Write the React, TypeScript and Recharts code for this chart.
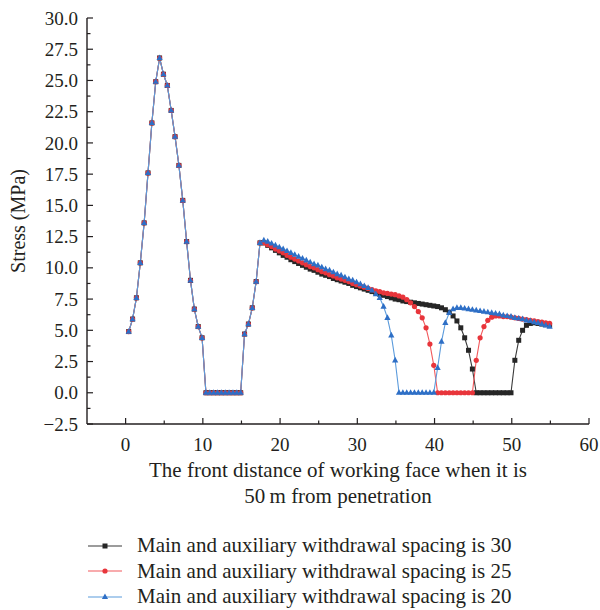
import { LineChart, Line, XAxis, YAxis, Legend, Label } from 'recharts';

const FONT = '"Liberation Serif", "Times New Roman", serif';
const INK = '#231f20';

// distance ahead of the working face (m), one sample every 0.5 m
const approachDistance = [
  0.4, 0.9, 1.4, 1.9, 2.4, 2.9, 3.4, 3.9, 4.4, 4.9,
  5.4, 5.9, 6.4, 6.9, 7.4, 7.9, 8.4, 8.9, 9.4, 9.9,
  10.4, 10.9, 11.4, 11.9, 12.4, 12.9, 13.4, 13.9, 14.4, 14.9,
  15.4, 15.9, 16.4, 16.9, 17.4,
];
const tailDistance = [
  17.9, 18.4, 18.9, 19.4, 19.9, 20.4, 20.9, 21.4, 21.9, 22.4,
  22.9, 23.4, 23.9, 24.4, 24.9, 25.4, 25.9, 26.4, 26.9, 27.4,
  27.9, 28.4, 28.9, 29.4, 29.9, 30.4, 30.9, 31.4, 31.9, 32.4,
  32.9, 33.4, 33.9, 34.4, 34.9, 35.4, 35.9, 36.4, 36.9, 37.4,
  37.9, 38.4, 38.9, 39.4, 39.9, 40.4, 40.9, 41.4, 41.9, 42.4,
  42.9, 43.4, 43.9, 44.4, 44.9, 45.4, 45.9, 46.4, 46.9, 47.4,
  47.9, 48.4, 48.9, 49.4, 49.9, 50.4, 50.9, 51.4, 51.9, 52.4,
  52.9, 53.4, 53.9, 54.4, 54.9,
];

// stress (MPa) near the face, identical for all three spacings
const approachStress = [
  4.9, 5.9, 7.6, 10.4, 13.6, 17.6, 21.6, 24.9, 26.8, 25.5,
  24.6, 22.6, 20.5, 18.2, 15.4, 12.1, 9.0, 6.7, 5.3, 4.4,
  0, 0, 0, 0, 0, 0, 0, 0, 0, 0,
  4.7, 5.5, 6.8, 8.9, 12.0,
];

// spacing 30
const stress30 = [
  12.0, 11.8, 11.6, 11.4, 11.2, 11.0, 10.85, 10.65, 10.5, 10.35,
  10.2, 10.05, 9.9, 9.8, 9.65, 9.5, 9.4, 9.3, 9.15, 9.05,
  8.95, 8.85, 8.75, 8.6, 8.5, 8.4, 8.3, 8.2, 8.1, 8.0,
  7.9, 7.8, 7.7, 7.6, 7.5, 7.45, 7.35, 7.3, 7.25, 7.2,
  7.15, 7.1, 7.05, 7.0, 6.95, 6.9, 6.8, 6.65, 6.45, 6.15,
  5.75, 5.2, 4.4, 3.4, 1.9, 0, 0, 0, 0, 0,
  0, 0, 0, 0, 0, 2.6, 4.2, 5.0, 5.4, 5.55,
  5.6, 5.55, 5.5, 5.45, 5.4,
];

// spacing 25
const stress25 = [
  12.0, 11.85, 11.7, 11.5, 11.35, 11.2, 11.0, 10.85, 10.7, 10.55,
  10.4, 10.25, 10.1, 10.0, 9.85, 9.7, 9.6, 9.45, 9.35, 9.2,
  9.1, 9.0, 8.9, 8.75, 8.65, 8.55, 8.45, 8.35, 8.25, 8.15,
  8.1, 8.0, 7.95, 7.9, 7.85, 7.75, 7.65, 7.45, 7.2, 6.9,
  6.5, 6.0, 5.2, 3.9, 2.2, 0, 0, 0, 0, 0,
  0, 0, 0, 0, 0, 2.6, 4.4, 5.3, 5.8, 6.05,
  6.15, 6.15, 6.1, 6.1, 6.05, 6.0, 5.95, 5.9, 5.85, 5.8,
  5.75, 5.7, 5.65, 5.6, 5.55,
];

// spacing 20
const stress20 = [
  12.2, 12.1, 11.95, 11.8, 11.65, 11.5, 11.35, 11.2, 11.05, 10.9,
  10.75, 10.6, 10.45, 10.3, 10.2, 10.05, 9.9, 9.8, 9.65, 9.5,
  9.4, 9.25, 9.1, 9.0, 8.85, 8.7, 8.55, 8.4, 8.2, 7.9,
  7.6, 6.9, 6.0, 4.6, 2.6, 0, 0, 0, 0, 0,
  0, 0, 0, 0, 0, 2.0, 4.1, 5.6, 6.4, 6.7,
  6.8, 6.8, 6.75, 6.7, 6.65, 6.6, 6.55, 6.5, 6.45, 6.4,
  6.35, 6.3, 6.2, 6.15, 6.1, 6.0, 5.95, 5.9, 5.8, 5.75,
  5.65, 5.6, 5.5, 5.4, 5.3,
];

const xTicks = [0, 5, 10, 15, 20, 25, 30, 35, 40, 45, 50, 55, 60];
const yTicks = [
  -2.5, -1.25, 0, 1.25, 2.5, 3.75, 5, 6.25, 7.5, 8.75, 10, 11.25, 12.5, 13.75,
  15, 16.25, 17.5, 18.75, 20, 21.25, 22.5, 23.75, 25, 26.25, 27.5, 28.75, 30,
];

const series = [
  { key: 's30', name: 'Main and auxiliary withdrawal spacing is 30', line: '#3a3a3a', mark: '#262626', shape: 'square' },
  { key: 's25', name: 'Main and auxiliary withdrawal spacing is 25', line: '#f2595c', mark: '#e8353b', shape: 'circle' },
  { key: 's20', name: 'Main and auxiliary withdrawal spacing is 20', line: '#5b9bdc', mark: '#2e6fc6', shape: 'triangle' },
];

const distance = [...approachDistance, ...tailDistance];
const s30 = [...approachStress, ...stress30];
const s25 = [...approachStress, ...stress25];
const s20 = [...approachStress, ...stress20];
const rows = distance.map((x, i) => ({ x, s30: s30[i], s25: s25[i], s20: s20[i] }));

function Marker({ shape, cx, cy, fill }: { shape: string; cx: number; cy: number; fill: string }) {
  if (shape === 'square') return <rect x={cx - 2.5} y={cy - 2.5} width={5} height={5} fill={fill} />;
  if (shape === 'circle') return <circle cx={cx} cy={cy} r={2.6} fill={fill} />;
  return <path d={`M${cx},${cy - 3.5}L${cx + 3.1},${cy + 2.1}L${cx - 3.1},${cy + 2.1}Z`} fill={fill} />;
}

const dotFor = (shape: string, fill: string) => (props: any) => {
  const { cx, cy, index } = props;
  if (cx == null || cy == null) return <g key={`d-${index}`} />;
  return (
    <g key={`d-${index}`}>
      <Marker shape={shape} cx={cx} cy={cy} fill={fill} />
    </g>
  );
};

const TICK_GAP = 9;

function YTick(props: any) {
  const { x, y, payload } = props;
  const major = Math.abs(payload.value / 2.5 - Math.round(payload.value / 2.5)) < 1e-6;
  const ax = x + TICK_GAP;
  return (
    <g>
      <line x1={ax} x2={ax + (major ? 6 : 3.5)} y1={y} y2={y} stroke={INK} strokeWidth={1.2} />
      {major && (
        <text x={x} y={y} dy="0.35em" textAnchor="end" fontFamily={FONT} fontSize={19} fill={INK}>
          {payload.value.toFixed(1).replace('-', '\u2212')}
        </text>
      )}
    </g>
  );
}

const X_GAP = 12;

function XTick(props: any) {
  const { x, y, payload } = props;
  const major = payload.value % 10 === 0;
  const ay = y - X_GAP;
  return (
    <g>
      <line x1={x} x2={x} y1={ay} y2={ay - (major ? 6 : 3.5)} stroke={INK} strokeWidth={1.2} />
      {major && (
        <text x={x} y={y} dy="0.78em" textAnchor="middle" fontFamily={FONT} fontSize={19} fill={INK}>
          {payload.value}
        </text>
      )}
    </g>
  );
}

function XTitle(props: any) {
  const vb = props.viewBox || {};
  const cx = vb.x + vb.width / 2;
  return (
    <text x={cx} y={vb.y + 53} textAnchor="middle" fontFamily={FONT} fontSize={21} fill={INK}>
      <tspan x={cx}>The front distance of working face when it is</tspan>
      <tspan x={cx} dy={26}>50{'\u2009'}m from penetration</tspan>
    </text>
  );
}

function YTitle(props: any) {
  const vb = props.viewBox || {};
  const cy = vb.y + vb.height / 2;
  const cx = 18;
  return (
    <text
      x={cx}
      y={cy}
      dy="0.35em"
      transform={`rotate(-90, ${cx}, ${cy})`}
      textAnchor="middle"
      fontFamily={FONT}
      fontSize={20}
      fill={INK}
    >
      Stress (MPa)
    </text>
  );
}

function SeriesLegend() {
  return (
    <div style={{ fontFamily: FONT, fontSize: 21, color: INK }}>
      {series.map((s) => (
        <div key={s.key} style={{ display: 'flex', alignItems: 'center', height: 25.5 }}>
          <svg width={137} height={14} style={{ flex: 'none' }}>
            <line x1={88} x2={122} y1={7} y2={7} stroke={s.line} strokeWidth={1.2} />
            <Marker shape={s.shape} cx={105} cy={7} fill={s.mark} />
          </svg>
          <span style={{ whiteSpace: 'nowrap' }}>{s.name}</span>
        </div>
      ))}
    </div>
  );
}

export default function App() {
  return (
    <div style={{ position: 'absolute', left: 0, top: 0, width: 600, height: 610, background: '#fff' }}>
      <LineChart width={600} height={610} data={rows} margin={{ top: 18, right: 11, bottom: 96, left: 0 }}>
        <XAxis
          dataKey="x"
          type="number"
          domain={[-5, 60]}
          ticks={xTicks}
          interval={0}
          height={90}
          tickSize={0}
          tickMargin={X_GAP}
          tickLine={false}
          axisLine={{ stroke: INK, strokeWidth: 1.4 }}
          tick={<XTick />}
        >
          <Label content={<XTitle />} />
        </XAxis>
        <YAxis
          type="number"
          domain={[-2.5, 30]}
          ticks={yTicks}
          interval={0}
          width={87}
          tickSize={0}
          tickMargin={TICK_GAP}
          tickLine={false}
          axisLine={{ stroke: INK, strokeWidth: 1.4 }}
          tick={<YTick />}
        >
          <Label content={<YTitle />} />
        </YAxis>
        <Legend
          layout="horizontal"
          verticalAlign="middle"
          align="center"
          wrapperStyle={{ top: 533, left: 0, width: 600 }}
          content={<SeriesLegend />}
        />
        {series.map((s) => (
          <Line
            key={s.key}
            dataKey={s.key}
            name={s.name}
            type="linear"
            stroke={s.line}
            strokeWidth={1.1}
            dot={dotFor(s.shape, s.mark)}
            activeDot={false}
            isAnimationActive={false}
          />
        ))}
      </LineChart>
    </div>
  );
}
